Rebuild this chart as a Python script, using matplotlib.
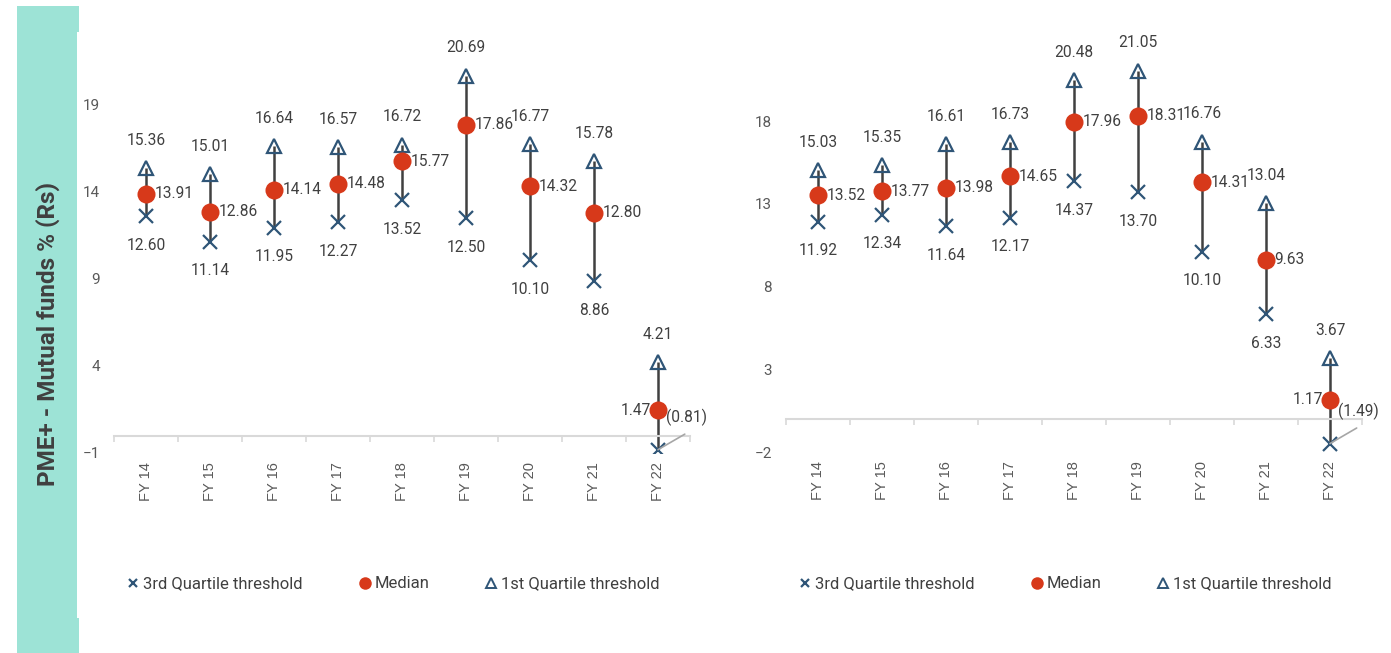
import numpy as np
import matplotlib
matplotlib.use("Agg")
import matplotlib.pyplot as plt
import matplotlib.transforms as mtransforms
from matplotlib.lines import Line2D
from matplotlib.patches import Rectangle

# ---- data -------------------------------------------------------------
categories = ["FY 14", "FY 15", "FY 16", "FY 17", "FY 18", "FY 19", "FY 20", "FY 21", "FY 22"]

left_q1 = [15.36, 15.01, 16.64, 16.57, 16.72, 20.69, 16.77, 15.78, 4.21]
left_median = [13.91, 12.86, 14.14, 14.48, 15.77, 17.86, 14.32, 12.80, 1.47]
left_q3 = [12.60, 11.14, 11.95, 12.27, 13.52, 12.50, 10.10, 8.86, -0.81]

right_q1 = [15.03, 15.35, 16.61, 16.73, 20.48, 21.05, 16.76, 13.04, 3.67]
right_median = [13.52, 13.77, 13.98, 14.65, 17.96, 18.31, 14.31, 9.63, 1.17]
right_q3 = [11.92, 12.34, 11.64, 12.17, 14.37, 13.70, 10.10, 6.33, -1.49]

left_yticks = [-1, 4, 9, 14, 19]
right_yticks = [-2, 3, 8, 13, 18]

y_title = "PME+ - Mutual funds % (Rs)"
legend_labels = ["3rd Quartile threshold", "Median", "1st Quartile threshold"]

# ---- style --------------------------------------------------------------
W, H = 1391, 653
TEAL = "#9DE3D6"
BLUE = "#2F5577"
RED = "#D7391A"
STEM = "#404040"
TEXT = "#404040"
TICK = "#595959"
AXIS = "#D9D9D9"
LEADER = "#A6A6A6"
FONT = "Roboto"
CAT_FONT = "Liberation Sans"
LABEL_SIZE = 11.2

plt.rcParams["font.family"] = [FONT, "DejaVu Sans"]

fig = plt.figure(figsize=(W / 100, H / 100), dpi=100)
fig.patch.set_facecolor("white")


def px_box(x0, y0, x1, y1):
    """Figure-fraction rectangle from pixel edges measured from the top-left."""
    return [x0 / W, 1 - y1 / H, (x1 - x0) / W, (y1 - y0) / H]


# teal title band on the left
fig.patches.append(Rectangle((17 / W, 0), 62 / W, (H - 6) / H,
                             transform=fig.transFigure, facecolor=TEAL,
                             edgecolor="none", zorder=0))
fig.patches.append(Rectangle((77 / W, 1 - 618 / H), 2.2 / W, (618 - 32) / H,
                             transform=fig.transFigure, facecolor="white",
                             edgecolor="none", zorder=0))

fig.text(48 / W, 1 - 334 / H, y_title, rotation=90, ha="center", va="center",
         fontsize=17.5, fontweight="bold", color=TEXT, family=[FONT, "DejaVu Sans"])


def draw_panel(ax, q1, med, q3, yticks, ylim):
    x = np.arange(len(categories))
    ax.set_xlim(-0.5, len(categories) - 0.5)
    ax.set_ylim(*ylim)
    ax.patch.set_alpha(0)

    # high-low stems
    ax.vlines(x, q3, q1, color=STEM, lw=1.8, zorder=2)
    ax.plot(x, q3, linestyle="none", marker="x", ms=10.5, mew=1.6,
            color=BLUE, zorder=3)
    ax.plot(x, q1, linestyle="none", marker="^", ms=10.5, mew=1.6,
            mfc="none", mec=BLUE, zorder=3)
    ax.plot(x, med, linestyle="none", marker="o", ms=13, color=RED,
            mec="none", zorder=4)

    lab = dict(textcoords="offset points", fontsize=LABEL_SIZE, color=TEXT,
               va="center", zorder=5)
    for i in x:
        ax.annotate(f"{q1[i]:.2f}", (i, q1[i]), xytext=(0, 20), ha="center", **lab)
        if q3[i] >= 0:
            ax.annotate(f"{q3[i]:.2f}", (i, q3[i]), xytext=(0, -21), ha="center", **lab)
            ax.annotate(f"{med[i]:.2f}", (i, med[i]), xytext=(6, 0), ha="left", **lab)
        else:
            ax.annotate(f"({abs(q3[i]):.2f})", (i, q3[i]), xytext=(6, 23), ha="left",
                        arrowprops=dict(arrowstyle="-", color=LEADER, lw=1.2,
                                        shrinkA=0, shrinkB=0, relpos=(0.45, -0.45)),
                        **lab)
            ax.annotate(f"{med[i]:.2f}", (i, med[i]), xytext=(-5, 0), ha="right", **lab)

    # category axis crossing at zero
    for side in ("left", "right", "top"):
        ax.spines[side].set_visible(False)
    ax.spines["bottom"].set_position(("data", 0))
    ax.spines["bottom"].set_color(AXIS)
    ax.spines["bottom"].set_linewidth(1.5)
    ax.set_xticks(np.arange(-0.5, len(categories), 1.0))
    ax.set_xticklabels([])
    ax.tick_params(axis="x", length=4, width=1.2, color=AXIS, direction="out")

    trans = mtransforms.blended_transform_factory(ax.transData, ax.transAxes)
    for i, c in enumerate(categories):
        ax.text(i, -0.021, c, transform=trans, rotation=90, ha="center", va="top",
                fontsize=10.5, color=TICK, family=CAT_FONT)

    ax.set_yticks(yticks)
    ax.tick_params(axis="y", length=0, pad=10, labelsize=11, labelcolor=TICK)

    handles = [
        Line2D([], [], linestyle="none", marker="x", ms=6, mew=1.6, color=BLUE),
        Line2D([], [], linestyle="none", marker="o", ms=9, color=RED, mec="none"),
        Line2D([], [], linestyle="none", marker="^", ms=6.5, mew=1.4, mfc="none", mec=BLUE),
    ]
    return handles


ax_l = fig.add_axes(px_box(114, 30, 690, 453))
h = draw_panel(ax_l, left_q1, left_median, left_q3, left_yticks, (-1, 23.31))
ax_r = fig.add_axes(px_box(786, 30, 1362, 452))
draw_panel(ax_r, right_q1, right_median, right_q3, right_yticks, (-2, 23.5))

for cx in (394, 1066):
    fig.legend(h, legend_labels, loc="center", ncol=3,
               bbox_to_anchor=(cx / W, 1 - 584 / H), bbox_transform=fig.transFigure,
               frameon=False, fontsize=12, handlelength=0.6, handletextpad=0.3,
               columnspacing=3.4, labelcolor=TEXT)

fig.savefig("out.png", dpi=100, facecolor="white")
